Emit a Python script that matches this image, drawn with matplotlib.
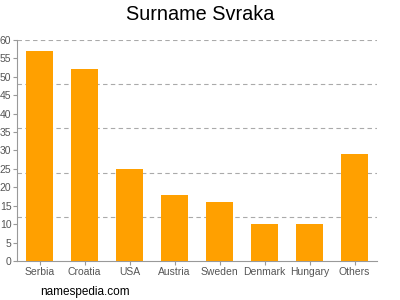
import matplotlib.pyplot as plt

countries = ['Serbia', 'Croatia', 'USA', 'Austria', 'Sweden', 'Denmark', 'Hungary', 'Others']
counts = [57, 52, 25, 18, 16, 10, 10, 29]
y_ticks = list(range(0, 65, 5))
grid_levels = [12, 24, 36, 48, 60]

plt.rcParams['font.family'] = ['Liberation Sans', 'DejaVu Sans']

fig = plt.figure(figsize=(4, 3), dpi=100)
ax = fig.add_axes([0.0425, 0.13, 0.9, 0.7367])

ax.bar(range(len(countries)), counts, width=0.62, color='#FFA000', zorder=3)

for g in grid_levels:
    ax.axhline(g, color='#aaaaaa', linestyle=(0, (4, 3)), linewidth=0.8, zorder=1)

ax.set_xlim(-0.5, len(countries) - 0.5)
ax.set_ylim(0, 60)
ax.set_xticks(range(len(countries)))
ax.set_xticklabels(countries)
ax.set_yticks(y_ticks)
ax.tick_params(axis='both', colors='#999999', labelcolor='#555555', labelsize=7.5,
               length=3, width=0.8, pad=1)

for side in ['top', 'right']:
    ax.spines[side].set_visible(False)
for side in ['left', 'bottom']:
    ax.spines[side].set_color('#999999')
    ax.spines[side].set_linewidth(0.8)

fig.text(0.5, 0.95, 'Surname Svraka', ha='center', va='center', fontsize=14.3)
fig.text(0.1, 0.027, 'namespedia.com', ha='left', va='center', fontsize=8.5)

fig.savefig('out.png', dpi=100)
